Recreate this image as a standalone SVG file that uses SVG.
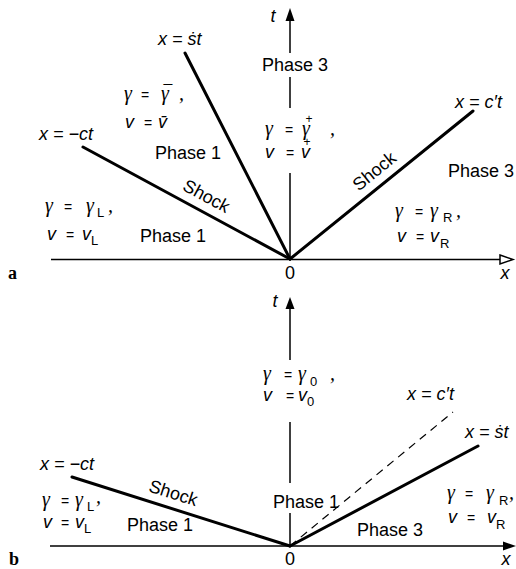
<svg xmlns="http://www.w3.org/2000/svg" width="516" height="569" viewBox="0 0 516 569">
<style>
text{font-family:"Liberation Sans",Arial,"DejaVu Sans",sans-serif;fill:#000}
.ph{font-size:18px}
.m{font-size:18px;font-style:italic}
.g{font-family:"Liberation Serif","DejaVu Serif",serif;font-style:italic;font-size:20px}
.eq{font-family:"Liberation Sans",Arial,sans-serif;font-size:14px;font-style:normal}
.sub{font-family:"Liberation Sans",Arial,sans-serif;font-size:13px;font-style:normal}
.pl{font-size:12px;font-style:normal}
.bar{font-size:16px;font-style:normal}
.lab{font-family:"Liberation Serif",serif;font-weight:bold;font-size:18px}
.ax{stroke:#000;stroke-width:1.5;fill:none}
.th{stroke:#000;stroke-width:3;stroke-linecap:round;fill:none}
.da{stroke:#000;stroke-width:1.2;stroke-dasharray:8 6;fill:none}
</style>
<rect width="516" height="569" fill="#fff"/>
<g id="connectors">
  <line class="ax" x1="51" y1="259.5" x2="503" y2="259.5"/>
  <polygon points="500,255 513,259.5 500,264" fill="#fff" stroke="#000" stroke-width="1.5"/>
  <line class="ax" x1="290" y1="20" x2="290" y2="53"/>
  <line class="ax" x1="290" y1="77" x2="290" y2="108"/>
  <line class="ax" x1="290" y1="173" x2="290" y2="259"/>
  <polygon points="290,8 285.5,21 294.5,21" fill="#000"/>
  <line class="th" x1="185" y1="53" x2="290" y2="259"/>
  <line class="th" x1="83" y1="147" x2="290" y2="259"/>
  <line class="th" x1="290" y1="259" x2="473" y2="111"/>
  <line class="ax" x1="50" y1="546" x2="505" y2="546"/>
  <polygon points="503,541.5 516,546 503,550.5" fill="#000"/>
  <line class="ax" x1="290" y1="309" x2="290" y2="360"/>
  <line class="ax" x1="290" y1="422" x2="290" y2="483"/>
  <line class="ax" x1="290" y1="513" x2="290" y2="546"/>
  <polygon points="290,297 285.5,309 294.5,309" fill="#000"/>
  <line class="th" x1="72" y1="477" x2="290" y2="546"/>
  <line class="th" x1="290" y1="546" x2="478" y2="446"/>
  <line class="da" x1="290" y1="546" x2="453" y2="412"/>
</g>

<g id="diagram-a">
  <g id="a-axis-labels">
    <text class="m" x="273" y="22" text-anchor="middle">t</text>
    <text class="ph" x="290" y="279" text-anchor="middle">0</text>
    <text class="m" x="505" y="279" text-anchor="middle">x</text>
    <text class="lab" x="8" y="279">a</text>
  </g>
  <g id="a-ray-labels">
    <text class="m" x="158" y="45">x = ṡt</text>
    <text class="m" x="39" y="140">x = −ct</text>
    <text class="m" x="455" y="108">x = c′t</text>
    <text class="ph" font-size="17" transform="translate(206,197) rotate(28.4)" x="0" y="5" text-anchor="middle">Shock</text>
    <text class="ph" font-size="17" transform="translate(375,172) rotate(-39)" x="0" y="5" text-anchor="middle">Shock</text>
  </g>
  <g id="a-region-top">
    <text class="ph" x="262" y="71">Phase 3</text>
    <text class="g" y="135"><tspan x="265">γ</tspan><tspan class="eq" x="285">=</tspan><tspan x="302">γ</tspan><tspan x="330">,</tspan></text>
    <text class="pl" x="309" y="123" text-anchor="middle">+</text>
    <text class="m" y="158"><tspan x="265">v</tspan><tspan class="eq" x="286">=</tspan><tspan x="301">v</tspan></text>
    <text class="pl" x="307" y="146" text-anchor="middle">+</text>
  </g>
  <g id="a-region-bar">
    <text class="g" y="100"><tspan x="124">γ</tspan><tspan class="eq" x="141">=</tspan><tspan x="161">γ</tspan><tspan x="179">,</tspan></text>
    <text class="bar" x="168" y="97" text-anchor="middle">¯</text>
    <text class="m" y="128"><tspan x="125">v</tspan><tspan class="eq" x="144">=</tspan><tspan x="158">v̄</tspan></text>
    <text class="ph" x="155" y="159">Phase 1</text>
  </g>
  <g id="a-region-left">
    <text class="g" y="212"><tspan x="45">γ</tspan><tspan class="eq" x="64">=</tspan><tspan x="86">γ</tspan><tspan class="sub" x="97" y="217">L</tspan><tspan x="108" y="212">,</tspan></text>
    <text class="m" y="240"><tspan x="47">v</tspan><tspan class="eq" x="66">=</tspan><tspan x="82">v</tspan><tspan class="sub" x="91" y="245">L</tspan></text>
    <text class="ph" x="140" y="242">Phase 1</text>
  </g>
  <g id="a-region-right">
    <text class="ph" x="448" y="177">Phase 3</text>
    <text class="g" y="217"><tspan x="395">γ</tspan><tspan class="eq" x="415">=</tspan><tspan x="430">γ</tspan><tspan class="sub" x="443" y="222">R</tspan><tspan x="456" y="217">,</tspan></text>
    <text class="m" y="242"><tspan x="397">v</tspan><tspan class="eq" x="416">=</tspan><tspan x="430">v</tspan><tspan class="sub" x="440" y="248">R</tspan></text>
  </g>
</g>

<g id="diagram-b">
  <g id="b-axis-labels">
    <text class="m" x="275" y="307" text-anchor="middle">t</text>
    <text class="ph" x="290" y="565" text-anchor="middle">0</text>
    <text class="m" x="506" y="565" text-anchor="middle">x</text>
    <text class="lab" x="9" y="565">b</text>
  </g>
  <g id="b-ray-labels">
    <text class="m" x="40" y="470">x = −ct</text>
    <text class="m" x="407" y="400">x = c′t</text>
    <text class="m" x="465" y="438">x = ṡt</text>
    <text class="ph" font-size="17" transform="translate(173,494) rotate(17.6)" x="0" y="5" text-anchor="middle">Shock</text>
  </g>
  <g id="b-region-top">
    <text class="g" y="380"><tspan x="263">γ</tspan><tspan class="eq" x="284">=</tspan><tspan x="298">γ</tspan><tspan class="sub" x="310" y="386">0</tspan><tspan x="330" y="380">,</tspan></text>
    <text class="m" y="401"><tspan x="263">v</tspan><tspan class="eq" x="286">=</tspan><tspan x="298">v</tspan><tspan class="sub" x="307" y="406">0</tspan></text>
  </g>
  <g id="b-region-mid">
    <text class="ph" x="273" y="508">Phase 1</text>
  </g>
  <g id="b-region-left">
    <text class="g" y="506"><tspan x="42">γ</tspan><tspan class="eq" x="61">=</tspan><tspan x="75">γ</tspan><tspan class="sub" x="87" y="511">L</tspan><tspan x="96" y="503">,</tspan></text>
    <text class="m" y="528"><tspan x="43">v</tspan><tspan class="eq" x="61">=</tspan><tspan x="75">v</tspan><tspan class="sub" x="84" y="533">L</tspan></text>
    <text class="ph" x="127" y="531">Phase 1</text>
  </g>
  <g id="b-region-right">
    <text class="g" y="499"><tspan x="447">γ</tspan><tspan class="eq" x="465">=</tspan><tspan x="486">γ</tspan><tspan class="sub" x="499" y="505">R</tspan><tspan x="509" y="499">,</tspan></text>
    <text class="m" y="523"><tspan x="448">v</tspan><tspan class="eq" x="467">=</tspan><tspan x="487">v</tspan><tspan class="sub" x="496" y="529">R</tspan></text>
    <text class="ph" x="357" y="536">Phase 3</text>
  </g>
</g>
</svg>
